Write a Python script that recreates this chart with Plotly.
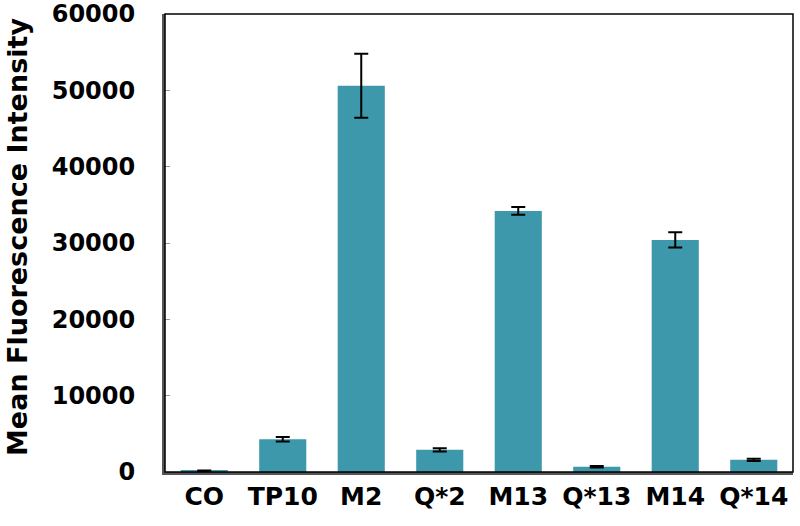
import plotly.graph_objects as go

samples = ["CO", "TP10", "M2", "Q*2", "M13", "Q*13", "M14", "Q*14"]
mfi = [150, 4300, 50600, 2900, 34200, 700, 30400, 1600]
mfi_err = [50, 300, 4200, 200, 500, 100, 1000, 150]
y_ticks = [0, 10000, 20000, 30000, 40000, 50000, 60000]

bar_color = "#3C98AA"
font_family = "DejaVu Sans, Arial, sans-serif"

fig = go.Figure()
fig.add_trace(go.Bar(
    x=samples, y=mfi,
    marker=dict(color=bar_color, line=dict(width=0)),
    width=0.6,
    error_y=dict(type="data", array=mfi_err, visible=True,
                 color="black", thickness=2, width=7),
))

# thin black frame round the plot area
fig.add_shape(type="rect", xref="paper", yref="paper", x0=0, y0=0, x1=1, y1=1,
              line=dict(color="black", width=1.5), layer="above")

# y title as an annotation so it can sit close to the left edge
fig.add_annotation(
    text="Mean Fluorescence Intensity", textangle=-90,
    xref="paper", yref="paper", x=0, y=0.5, xshift=-148, yshift=6,
    xanchor="center", yanchor="middle", showarrow=False,
    font=dict(size=27, family=font_family, weight="bold", color="black"),
)

fig.update_layout(
    width=800, height=526,
    margin=dict(l=165, r=7, t=14, b=54),
    plot_bgcolor="white", paper_bgcolor="white",
    showlegend=False,
    font=dict(family=font_family, color="black"),
)
fig.update_xaxes(
    automargin=False,
    showline=True, linecolor="#555555", linewidth=3,
    ticks="", showgrid=False,
    tickfont=dict(size=25, family=font_family, weight="bold"),
)
fig.update_yaxes(
    automargin=False,
    range=[0, 60000], tickvals=y_ticks, tickformat="d",
    ticklabeloverflow="allow", ticklabelstandoff=22,
    showline=True, linecolor="#555555", linewidth=3,
    ticks="inside", ticklen=5, tickcolor="#999999", tickwidth=1,
    showgrid=False, zeroline=False,
    tickfont=dict(size=24, family=font_family, weight="bold"),
)

# drop the browser's default body margin so the figure sits at the page corner
fig.write_html("out.html", config={"displayModeBar": False},
               post_script="document.body.style.margin='0';")
